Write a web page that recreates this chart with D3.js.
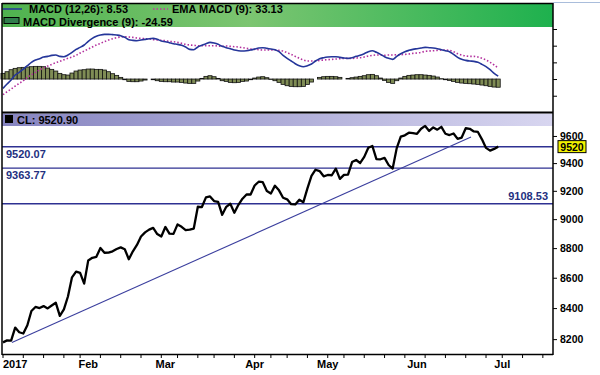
<!DOCTYPE html>
<meta charset="utf-8">
<style>
body { margin: 0; background: #fff; }
svg text { font-family: Arial, "Liberation Sans", sans-serif; font-weight: bold; }
.hdr { font-size: 11px; fill: #000; }
.lvl { font-size: 11px; fill: #23307f; }
.axis text { font-size: 10.5px; fill: #000; }
.xlab { font-size: 11px; fill: #000; }
</style>
<svg width="600" height="375"></svg>
<script src="https://cdn.jsdelivr.net/npm/d3@7"></script>
<script>

// NIFTY closes, trading days 2 Jan - 30 Jun 2017
var closes = [
  8179.5, 8192.25, 8190.5, 8273.8, 8243.8, 8236.05, 8288.6, 8380.65, 8407.2, 8400.35,
  8412.8, 8398, 8417, 8435.1, 8349.35, 8391.5, 8475.8, 8602.75, 8641.25, 8632.75, 8561.3,
  8716.4, 8734.25, 8740.95, 8801.05, 8768.3, 8769.05, 8778, 8793.55, 8805.05, 8792.3,
  8724.7, 8778.4, 8821.7, 8879.2, 8907.85, 8926.9, 8939.5, 8896.7, 8879.6,
  8945.8, 8899.75, 8897.55, 8963.45, 8946.9, 8924.3, 8927, 8934.55, 9087, 9084.8,
  9153.7, 9160.05, 9126.85, 9121.5, 9030.45, 9086.3, 9108, 9045.2, 9100.8, 9143.8, 9173.75, 9173.75,
  9237.85, 9265.15, 9261.95, 9198.3, 9181.45, 9237, 9203.45, 9150.8, 9139.3, 9105.15,
  9103.5, 9136.4, 9119.4, 9217.95, 9306.6, 9351.85, 9342.15, 9304.05,
  9313.8, 9311.95, 9359.9, 9285.3, 9314.05, 9316.85, 9407.3, 9422.4, 9400.9, 9445.4,
  9512.25, 9525.75, 9429.45, 9427.9, 9438.25, 9386.15, 9360.55, 9509.75, 9595.1, 9604.9, 9624.55, 9621.25,
  9616.1, 9653.5, 9675.1, 9637.6, 9663.9, 9647.25, 9668.25, 9616.4, 9606.9, 9618.15,
  9578.05, 9588.05, 9657.55, 9653.5, 9633.6, 9630, 9574.95, 9511.4, 9491.25, 9504.1, 9520.9
];

var macd = [
  -28, -15, -3, 12, 20, 30, 40, 50, 57, 61, 66, 68, 71, 72, 68, 67, 72, 80, 89, 95,
  102, 113, 122, 128, 132, 134, 134, 133, 132, 130, 125, 118, 116, 115, 117, 119, 121, 122, 119, 114,
  112, 109, 106, 104, 101, 96, 89, 88, 96, 101, 106, 110, 108, 104, 98, 94, 91, 87, 85, 84,
  85, 87, 90, 93, 94, 92, 90, 88, 82, 71, 62, 54, 46, 40, 37, 40, 45, 54, 61, 64,
  66, 67, 67, 65, 63, 62, 64, 68, 71, 76, 82, 85, 80, 74, 67, 62, 59, 68, 76, 82,
  86, 89, 91, 93, 95, 94, 93, 91, 88, 85, 82, 74, 65, 59, 56, 54, 53, 50, 44, 37,
  28, 17, 8.53
];

var signal = [
  -47, -38, -30, -21, -13, -5, 5, 13, 20, 27, 33, 39, 44, 49, 53, 58, 62, 66, 71, 78,
  84, 90, 96, 102, 107, 112, 117, 121, 124, 126, 127, 126, 125, 123, 122, 121, 120, 118, 117, 116,
  115, 113, 112, 110, 107, 104, 102, 101, 100, 100, 100, 100, 100, 99, 98, 99, 98, 97, 96, 94,
  92, 90, 89, 88, 87, 87, 87, 87, 86, 84, 79, 74, 68, 62, 57, 54, 54, 54, 56, 57,
  58, 59, 60, 61, 62, 62, 62, 63, 64, 66, 69, 71, 72, 72, 71, 72, 72, 73, 73, 74,
  75, 77, 78, 80, 83, 84, 85, 86, 87, 87, 86, 82, 76, 72, 69, 68, 68, 66, 62, 57,
  50, 42, 33.13
];

var divergence = [
  17, 22, 28, 32, 34, 35, 36, 37, 38, 38, 37, 33, 29, 24, 17, 13, 12, 18, 24, 27,
  28, 30, 30, 29, 29, 27, 22, 16, 11, 5, -2, -7, -8, -8, -6, -3, 0, -2, -5, -7,
  -8, -8, -9, -9, -10, -12, -13, -13, -6, 2, 8, 10, 7, 2, -5, -7, -10, -11, -10, -7,
  -6, -2, 3, 6, 7, 4, -1, -5, -10, -16, -20, -22, -23, -23, -22, -16, -9, 0, 5, 7,
  8, 8, 7, 5, 0, 2, 4, 6, 8, 10, 13, 14, 10, 3, -4, -10, -13, -5, 3, 8,
  11, 12, 13, 13, 12, 11, 9, 6, 1, -2, -4, -7, -10, -12, -13, -14, -15, -16, -18, -20,
  -22, -24, -24.59
];

var levels = [9520.07, 9363.77, 9108.53];
var trend = [[2.2, 8178], [115.3, 9592]];
var priceTicks = [8200, 8400, 8600, 8800, 9000, 9200, 9400, 9600];
var macdTicks = [-50, 0, 50, 100, 150];
var monthIdx = [0, 21, 40, 62, 80, 102, 123];
var monthLabels = ["2017", "Feb", "Mar", "Apr", "May", "Jun", "Jul"];
var weekIdx = [0, 5, 10, 15, 19, 24, 29, 34, 39, 43, 48, 52, 57, 62, 66, 70, 75, 80, 84, 89,
  94, 99, 104, 109, 114, 119, 123, 128, 133];

var svg = d3.select("svg");
var L = 2, R = 553;

var x = d3.scaleLinear().domain([0, 135.5]).range([3, R]);
var y = d3.scaleLog().domain([8106, 9682]).range([354, 125]);
var ym = d3.scaleLinear().domain([-100, 150]).range([112.4, 29]);

var defs = svg.append("defs");
var g1 = defs.append("linearGradient").attr("id", "grn");
g1.append("stop").attr("offset", "0%").attr("stop-color", "#4fb24f");
g1.append("stop").attr("offset", "45%").attr("stop-color", "#7cc571");
g1.append("stop").attr("offset", "100%").attr("stop-color", "#1eb14e");
var g2 = defs.append("linearGradient").attr("id", "lav");
g2.append("stop").attr("offset", "0%").attr("stop-color", "#8684c0");
g2.append("stop").attr("offset", "100%").attr("stop-color", "#d8d6f0");

// top right stray rule
svg.append("line").attr("x1", R).attr("x2", 600).attr("y1", 2.5).attr("y2", 2.5)
    .attr("stroke", "#a9bddb").attr("stroke-width", 1);

// ---- MACD panel ----
svg.append("rect").attr("x", L).attr("y", 3.5).attr("width", R - L).attr("height", 23.5)
    .attr("fill", "url(#grn)");

var bw = x(1) - x(0);
svg.append("g").selectAll("rect")
    .data(divergence)
  .enter().append("rect")
    .attr("x", function(d, i) { return x(i) - bw / 2; })
    .attr("y", function(d) { return Math.min(ym(d), ym(0)); })
    .attr("width", bw)
    .attr("height", function(d) { return Math.abs(ym(d) - ym(0)); })
    .attr("fill", "#7f8c55")
    .attr("stroke", "#111")
    .attr("stroke-width", 0.8);

var mline = d3.line().x(function(d, i) { return x(i); }).y(function(d) { return ym(d); })
    .curve(d3.curveMonotoneX);

svg.append("path").datum(signal).attr("d", mline)
    .attr("fill", "none").attr("stroke", "#b3309e").attr("stroke-width", 1.6)
    .attr("stroke-dasharray", "1.5,2");
svg.append("path").datum(macd).attr("d", mline)
    .attr("fill", "none").attr("stroke", "#25369a").attr("stroke-width", 1.6);

// legend
svg.append("line").attr("x1", 3).attr("x2", 22).attr("y1", 9).attr("y2", 9)
    .attr("stroke", "#25369a").attr("stroke-width", 1.5);
svg.append("text").attr("class", "hdr").attr("x", 29).attr("y", 13).text("MACD (12,26): 8.53");
svg.append("line").attr("x1", 153).attr("x2", 168).attr("y1", 9).attr("y2", 9)
    .attr("stroke", "#c0389e").attr("stroke-width", 1.5).attr("stroke-dasharray", "1.5,2");
svg.append("text").attr("class", "hdr").attr("x", 172).attr("y", 13).text("EMA MACD (9): 33.13");
svg.append("rect").attr("x", 4).attr("y", 17.5).attr("width", 15).attr("height", 6)
    .attr("fill", "#2f7d4a").attr("stroke", "#000").attr("stroke-width", 1);
svg.append("text").attr("class", "hdr").attr("x", 23).attr("y", 25.5).text("MACD Divergence (9): -24.59");

svg.append("g").attr("class", "axis")
    .attr("transform", "translate(" + R + ",0)")
    .call(d3.axisRight(ym).tickValues(macdTicks).tickSize(4).tickFormat(""))
    .call(function(g) { g.select(".domain").remove(); });

// ---- price panel ----
svg.append("rect").attr("x", L).attr("y", 113.5).attr("width", R - L).attr("height", 12.5)
    .attr("fill", "url(#lav)");
svg.append("rect").attr("x", 5).attr("y", 115).attr("width", 8).attr("height", 8).attr("fill", "#000");
svg.append("text").attr("class", "hdr").attr("x", 17).attr("y", 123.5).text("CL: 9520.90");

svg.append("g").selectAll("line")
    .data(levels)
  .enter().append("line")
    .attr("x1", L).attr("x2", R)
    .attr("y1", function(d) { return y(d); })
    .attr("y2", function(d) { return y(d); })
    .attr("stroke", "#2e3192").attr("stroke-width", 1.4);

svg.append("text").attr("class", "lvl").attr("x", 6).attr("y", y(levels[0]) + 11).text(levels[0].toFixed(2));
svg.append("text").attr("class", "lvl").attr("x", 6).attr("y", y(levels[1]) + 11).text(levels[1].toFixed(2));
svg.append("text").attr("class", "lvl").attr("x", 548).attr("y", y(levels[2]) - 4)
    .attr("text-anchor", "end").text(levels[2].toFixed(2));

svg.append("line")
    .attr("x1", x(trend[0][0])).attr("y1", y(trend[0][1]))
    .attr("x2", x(trend[1][0])).attr("y2", y(trend[1][1]))
    .attr("stroke", "#3b3f9e").attr("stroke-width", 1.1);

svg.append("path").datum(closes)
    .attr("d", d3.line().x(function(d, i) { return x(i); }).y(function(d) { return y(d); }))
    .attr("fill", "none").attr("stroke", "#000").attr("stroke-width", 2.3)
    .attr("stroke-linejoin", "round");

var ya = svg.append("g").attr("class", "axis")
    .attr("transform", "translate(" + R + ",0)")
    .call(d3.axisRight(y).tickValues(priceTicks).tickSize(4).tickPadding(3)
      .tickFormat(d3.format("d")));
ya.select(".domain").remove();

// last value tag
var last = closes[closes.length - 1];
svg.append("rect").attr("x", 558).attr("y", y(last) - 6).attr("width", 28).attr("height", 12)
    .attr("fill", "#f2f200").attr("stroke", "#000").attr("stroke-width", 1);
svg.append("text").attr("x", 572).attr("y", y(last) + 4).attr("text-anchor", "middle")
    .style("font-size", "10.5px").text(Math.floor(last));

// x axis
svg.append("g").selectAll("line")
    .data(weekIdx)
  .enter().append("line")
    .attr("x1", function(d) { return x(d); }).attr("x2", function(d) { return x(d); })
    .attr("y1", 354).attr("y2", 358)
    .attr("stroke", "#000").attr("stroke-width", 1);

svg.append("g").selectAll("text")
    .data(monthIdx)
  .enter().append("text")
    .attr("class", "xlab")
    .attr("x", function(d) { return x(d); })
    .attr("y", 368)
    .attr("text-anchor", function(d, i) { return i == 0 ? "start" : "middle"; })
    .text(function(d, i) { return monthLabels[i]; });

// frame
var frame = svg.append("g").attr("stroke", "#000").attr("fill", "none");
frame.append("line").attr("x1", L).attr("x2", R).attr("y1", 3.5).attr("y2", 3.5).attr("stroke-width", 1.5);
frame.append("line").attr("x1", L).attr("x2", L).attr("y1", 3).attr("y2", 355).attr("stroke-width", 1.5);
frame.append("line").attr("x1", R).attr("x2", R).attr("y1", 3).attr("y2", 355).attr("stroke-width", 1.5);
frame.append("line").attr("x1", L).attr("x2", R).attr("y1", 112.5).attr("y2", 112.5).attr("stroke-width", 2);
frame.append("line").attr("x1", L).attr("x2", R).attr("y1", 354.5).attr("y2", 354.5).attr("stroke-width", 1.5);

</script>
